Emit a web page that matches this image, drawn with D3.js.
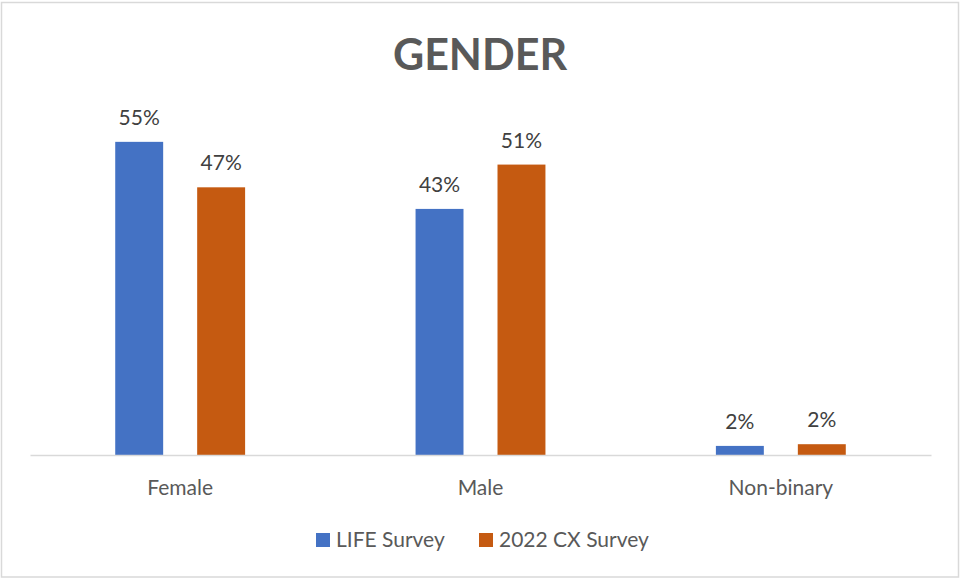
<!DOCTYPE html>
<html lang="en">
  <head>
    <meta charset="UTF-8" />
    <title>Gender</title>
    <script src="https://cdn.jsdelivr.net/npm/d3@7"></script>
    <style>
      body { margin: 0; background: #fff; }
      svg text { font-family: Lato, "Open Sans", sans-serif; fill: #595959; }
    </style>
  </head>
  <body>
    <svg id="chart" width="960" height="579"></svg>
    <script>
      // data (percent)
      var categories = ["Female", "Male", "Non-binary"];
      var seriesNames = ["LIFE Survey", "2022 CX Survey"];
      var lifeSurvey = [55.1, 43.3, 1.6];
      var cxSurvey = [47.1, 51.1, 1.9];
      var colors = ["#4472C4", "#C55A11"];

      var svg = d3.select("#chart");

      // chart frame
      svg.append("rect")
        .attr("x", 1.5).attr("y", 2.5)
        .attr("width", 957).attr("height", 574.5)
        .attr("fill", "#fff")
        .attr("stroke", "#d9d9d9")
        .attr("stroke-width", 1.5);

      svg.append("text")
        .attr("x", 480).attr("y", 70)
        .attr("text-anchor", "middle")
        .style("font-size", "43px")
        .style("font-weight", "bold")
        .text("GENDER");

      var x0 = d3.scaleBand().domain(categories).range([30, 931]);
      var x1 = d3.scaleBand().domain(seriesNames)
        .range([0, x0.bandwidth()])
        .paddingInner(0.415)
        .paddingOuter(1.04);
      var y = d3.scaleLinear().domain([0, 60]).range([455, 114]);

      var rows = categories.map(function (c, i) {
        return { cat: c, values: [lifeSurvey[i], cxSurvey[i]] };
      });

      var groups = svg.selectAll(".grp").data(rows).enter()
        .append("g")
        .attr("class", "grp")
        .attr("transform", function (d) { return "translate(" + x0(d.cat) + ",0)"; });

      var cells = groups.selectAll(".cell")
        .data(function (d) {
          return d.values.map(function (v, j) { return { s: seriesNames[j], v: v, j: j }; });
        })
        .enter();

      cells.append("rect")
        .attr("x", function (d) { return x1(d.s); })
        .attr("y", function (d) { return y(d.v); })
        .attr("width", x1.bandwidth())
        .attr("height", function (d) { return y(0) - y(d.v); })
        .attr("fill", function (d) { return colors[d.j]; });

      cells.append("text")
        .attr("x", function (d) { return x1(d.s) + x1.bandwidth() / 2; })
        .attr("y", function (d) { return y(d.v) - 17; })
        .attr("text-anchor", "middle")
        .style("font-size", "21px")
        .style("fill", "#404040")
        .text(function (d) { return Math.round(d.v) + "%"; });

      // baseline + category labels
      var xAxis = svg.append("g")
        .attr("transform", "translate(0," + y(0) + ")")
        .call(d3.axisBottom(x0).tickSize(0).tickPadding(25));
      xAxis.select(".domain").attr("stroke", "#d9d9d9").attr("stroke-width", 1.5);
      xAxis.selectAll("text")
        .style("font-size", "21px")
        .style("fill", "#595959");

      // legend
      var legendX = [316, 479];
      var legend = svg.selectAll(".leg").data(seriesNames).enter()
        .append("g")
        .attr("transform", function (d, i) { return "translate(" + legendX[i] + ",533)"; });
      legend.append("rect")
        .attr("width", 14).attr("height", 14)
        .attr("fill", function (d, i) { return colors[i]; });
      legend.append("text")
        .attr("x", 20).attr("y", 14)
        .style("font-size", "21px")
        .text(function (d) { return d; });
    </script>
  </body>
</html>
